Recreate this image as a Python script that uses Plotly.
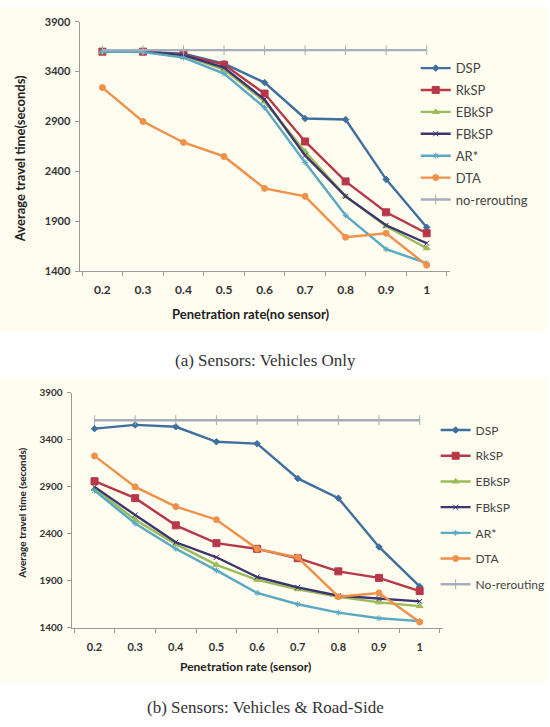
import plotly.graph_objects as go

rates = ["0.2", "0.3", "0.4", "0.5", "0.6", "0.7", "0.8", "0.9", "1"]
y_ticks = [1400, 1900, 2400, 2900, 3400, 3900]

names_a = ["DSP", "RkSP", "EBkSP", "FBkSP", "AR*", "DTA", "no-rerouting"]
names_b = ["DSP", "RkSP", "EBkSP", "FBkSP", "AR*", "DTA", "No-rerouting"]

# (a) Sensors: Vehicles Only
dsp_a = [3610, 3600, 3580, 3480, 3290, 2930, 2920, 2320, 1840]
rksp_a = [3600, 3600, 3570, 3470, 3180, 2700, 2300, 1990, 1780]
ebksp_a = [3600, 3600, 3560, 3420, 3100, 2600, 2150, 1850, 1630]
fbksp_a = [3605, 3600, 3565, 3440, 3120, 2560, 2150, 1860, 1680]
ar_a = [3600, 3595, 3540, 3380, 3040, 2490, 1960, 1620, 1480]
dta_a = [3240, 2900, 2690, 2550, 2230, 2150, 1740, 1780, 1460]
norr_a = [3615, 3615, 3615, 3615, 3615, 3615, 3615, 3615, 3615]

# (b) Sensors: Vehicles & Road-Side
dsp_b = [3520, 3560, 3540, 3380, 3360, 2990, 2780, 2260, 1840]
rksp_b = [2960, 2780, 2490, 2300, 2240, 2140, 2000, 1930, 1790]
ebksp_b = [2880, 2550, 2290, 2070, 1910, 1810, 1730, 1670, 1630]
fbksp_b = [2900, 2600, 2310, 2150, 1940, 1830, 1740, 1710, 1680]
ar_b = [2860, 2510, 2240, 2010, 1770, 1650, 1560, 1500, 1470]
dta_b = [3230, 2900, 2690, 2550, 2240, 2150, 1730, 1770, 1460]
norr_b = [3610, 3610, 3610, 3610, 3610, 3610, 3610, 3610, 3610]

colors = ["#3f6f9f", "#b8384a", "#9bbb59", "#3b3570", "#5aa9c2", "#f0914a", "#a6aebb"]
symbols = ["diamond", "square", "triangle-up", "x-thin-open", "asterisk-open", "circle", "line-ns-open"]
msizes = [5, 7, 6, 5, 5, 6, 7]

W, H = 550, 727
fig = go.Figure()

series_a = [dsp_a, rksp_a, ebksp_a, fbksp_a, ar_a, dta_a, norr_a]
series_b = [dsp_b, rksp_b, ebksp_b, fbksp_b, ar_b, dta_b, norr_b]

for i, (nm, ys) in enumerate(zip(names_a, series_a)):
    fig.add_trace(go.Scatter(
        x=rates, y=ys, name=nm, mode="lines+markers",
        line=dict(color=colors[i], width=2.4),
        marker=dict(symbol=symbols[i], size=msizes[i], color=colors[i],
                    line=dict(color=colors[i], width=1)),
        xaxis="x", yaxis="y", legend="legend", legendgroup="a" + str(i)))

for i, (nm, ys) in enumerate(zip(names_b, series_b)):
    fig.add_trace(go.Scatter(
        x=rates, y=ys, name=nm, mode="lines+markers",
        line=dict(color=colors[i], width=2.4),
        marker=dict(symbol=symbols[i], size=msizes[i], color=colors[i],
                    line=dict(color=colors[i], width=1)),
        xaxis="x2", yaxis="y2", legend="legend2", legendgroup="b" + str(i)))

def axis_common(size):
    return dict(showline=True, linecolor="#9a9a9a", linewidth=1,
                ticks="outside", tickcolor="#9a9a9a", ticklen=4,
                showgrid=False, zeroline=False,
                tickfont=dict(family="Lato", size=size, color="#333333", weight="bold"))

fig.update_layout(
    width=W, height=H,
    margin=dict(l=0, r=0, t=0, b=0),
    paper_bgcolor="white",
    plot_bgcolor="rgba(0,0,0,0)",
    showlegend=True,
    xaxis=dict(domain=[80 / W, 452 / W], anchor="y", type="category",
               tickson="boundaries", ticklabelstandoff=7, **axis_common(12)),
    yaxis=dict(domain=[1 - 269 / H, 1 - 15 / H], anchor="x", range=[1400, 3900],
               tickvals=y_ticks, ticklabelstandoff=2, **axis_common(11)),
    xaxis2=dict(domain=[72 / W, 445 / W], anchor="y2", type="category",
                tickson="boundaries", ticklabelstandoff=9, **axis_common(11)),
    yaxis2=dict(domain=[1 - 632 / H, 1 - 393 / H], anchor="x2", range=[1400, 3900],
                tickvals=y_ticks, ticklabelstandoff=2, **axis_common(10)),
    legend=dict(x=418 / W, y=1 - 47 / H, xanchor="left", yanchor="top",
                bgcolor="rgba(0,0,0,0)", font=dict(family="Lato", size=13, color="#444444"),
                tracegroupgap=2, itemwidth=30),
    legend2=dict(x=438 / W, y=1 - 416 / H, xanchor="left", yanchor="top",
                 bgcolor="rgba(0,0,0,0)", font=dict(family="Lato", size=12, color="#444444"),
                 tracegroupgap=6.7, itemwidth=30),
)

# cream chart backgrounds
fig.add_shape(type="rect", xref="paper", yref="paper", x0=0, x1=1,
              y0=1 - 330 / H, y1=1, fillcolor="#fffcf0", line=dict(width=0), layer="below")
fig.add_shape(type="rect", xref="paper", yref="paper", x0=0, x1=1,
              y0=1 - 688 / H, y1=1 - 378 / H, fillcolor="#fffcf0", line=dict(width=0), layer="below")

ann = [
    dict(text="<b>Average travel time(seconds)</b>", x=20 / W, y=1 - 154 / H, textangle=-90,
         font=dict(family="Lato", size=13, color="#222222")),
    dict(text="<b>Penetration rate(no sensor)</b>", x=252 / W, y=1 - 313 / H,
         font=dict(family="Lato", size=13, color="#222222")),
    dict(text="(a) Sensors: Vehicles Only", x=267 / W, y=1 - 360 / H,
         font=dict(family="Liberation Serif", size=17, color="#333333")),
    dict(text="<b>Average travel time (seconds)</b>", x=22 / W, y=1 - 515 / H, textangle=-90,
         font=dict(family="Lato", size=10, color="#222222")),
    dict(text="<b>Penetration rate (sensor)</b>", x=247 / W, y=1 - 672 / H,
         font=dict(family="Lato", size=12, color="#222222")),
    dict(text="(b) Sensors: Vehicles &amp; Road-Side", x=267 / W, y=1 - 713 / H,
         font=dict(family="Liberation Serif", size=17, color="#333333")),
]
for a in ann:
    fig.add_annotation(xref="paper", yref="paper", showarrow=False,
                       xanchor="center", yanchor="middle", **a)

fig.write_html("out.html")
